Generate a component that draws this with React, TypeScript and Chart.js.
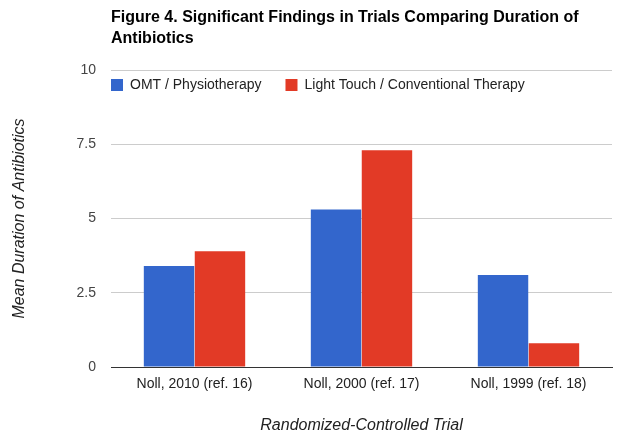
import React, { useEffect, useRef } from "react";
import { Chart, registerables } from "chart.js";

Chart.register(...registerables);

const categories = ["Noll, 2010 (ref. 16)", "Noll, 2000 (ref. 17)", "Noll, 1999 (ref. 18)"];
const seriesNames = ["OMT / Physiotherapy", "Light Touch / Conventional Therapy"];
const omtValues = [3.4, 5.3, 3.1];
const lightTouchValues = [3.9, 7.3, 0.8];
const yTicks = [0, 2.5, 5, 7.5, 10];
const titleLines = ["Figure 4. Significant Findings in Trials Comparing Duration of", "Antibiotics"];
const xTitle = "Randomized-Controlled Trial";
const yTitle = "Mean Duration of Antibiotics";

const BLUE = "#3366cc";
const RED = "#e23a26";
const FONT = "Arial, 'Liberation Sans', sans-serif";

const overlayPlugin = {
  id: "overlay",
  afterDraw(chart: any) {
    const ctx = chart.ctx;
    const area = chart.chartArea;
    ctx.save();
    // title
    ctx.fillStyle = "#000";
    ctx.font = `bold 16px ${FONT}`;
    ctx.textAlign = "left";
    ctx.textBaseline = "alphabetic";
    titleLines.forEach((line, i) => {
      ctx.fillText(line, area.left, 21.5 + i * 21.5);
    });
    // legend
    ctx.textBaseline = "middle";
    ctx.font = `14px ${FONT}`;
    let x = area.left;
    const y = 85;
    chart.data.datasets.forEach((ds: any) => {
      ctx.fillStyle = ds.backgroundColor;
      ctx.fillRect(x, y - 6, 12, 12);
      ctx.fillStyle = "#222";
      ctx.fillText(ds.label, x + 19, y);
      const w = ctx.measureText(ds.label).width;
      x += 19 + w + 24;
    });
    ctx.restore();
  },
};

export default function App() {
  const ref = useRef<HTMLCanvasElement | null>(null);
  useEffect(() => {
    document.body.style.margin = "0";
    const chart = new Chart(ref.current as HTMLCanvasElement, {
      type: "bar",
      data: {
        labels: categories,
        datasets: [
          { label: seriesNames[0], data: omtValues, backgroundColor: BLUE, categoryPercentage: 0.61, barPercentage: 0.99 },
          { label: seriesNames[1], data: lightTouchValues, backgroundColor: RED, categoryPercentage: 0.61, barPercentage: 0.99 },
        ],
      },
      options: {
        responsive: false,
        animation: false,
        devicePixelRatio: 1,
        layout: { padding: { top: 70, right: 16, left: 0, bottom: 0 } },
        plugins: {
          legend: { display: false },
          title: { display: false },
          tooltip: { enabled: false },
        },
        scales: {
          x: {
            grid: { display: false, drawTicks: false },
            border: { display: true, color: "#333", width: 1 },
            ticks: { color: "#222", font: { family: FONT, size: 14 }, padding: 9 },
            title: {
              display: true,
              text: xTitle,
              color: "#222",
              font: { family: FONT, size: 16, style: "italic" },
              padding: { top: 0, bottom: 10 },
            },
            afterFit(scale: any) {
              scale.height = 78;
            },
          },
          y: {
            min: 0,
            max: 10,
            afterBuildTicks(scale: any) {
              scale.ticks = yTicks.map((v) => ({ value: v }));
            },
            ticks: {
              color: "#444",
              font: { family: FONT, size: 14 },
              padding: 15,
              callback: (v: any) => String(v),
            },
            grid: { color: "#cccccc", drawTicks: false },
            border: { display: false },
            title: {
              display: true,
              text: yTitle,
              color: "#222",
              font: { family: FONT, size: 16, style: "italic" },
              padding: { top: 10, bottom: 0 },
            },
            afterFit(scale: any) {
              scale.width = 111;
            },
          },
        },
      },
      plugins: [overlayPlugin],
    });
    return () => chart.destroy();
  }, []);
  return (
    <div style={{ position: "absolute", left: 0, top: 0, width: 628, height: 445 }}>
      <canvas ref={ref} width={628} height={445} style={{ width: 628, height: 445 }} />
    </div>
  );
}
